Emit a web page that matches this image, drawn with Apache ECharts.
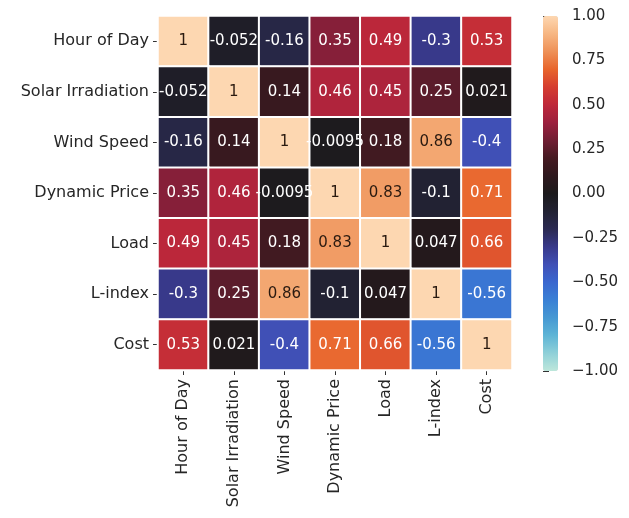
<!DOCTYPE html>
<html>
<head>
<meta charset="utf-8">
<script src="https://cdn.jsdelivr.net/npm/echarts@6/dist/echarts.min.js"></script>
<style>
html,body{margin:0;padding:0;background:#fff;}
#chart{width:629px;height:518px;}
</style>
</head>
<body>
<div id="chart"></div>
<script>
const categories = ["Hour of Day", "Solar Irradiation", "Wind Speed", "Dynamic Price", "Load", "L-index", "Cost"];
const rowHourOfDay = [1, -0.052, -0.16, 0.35, 0.49, -0.3, 0.53];
const rowSolar = [-0.052, 1, 0.14, 0.46, 0.45, 0.25, 0.021];
const rowWind = [-0.16, 0.14, 1, -0.0095, 0.18, 0.86, -0.4];
const rowPrice = [0.35, 0.46, -0.0095, 1, 0.83, -0.1, 0.71];
const rowLoad = [0.49, 0.45, 0.18, 0.83, 1, 0.047, 0.66];
const rowLindex = [-0.3, 0.25, 0.86, -0.1, 0.047, 1, -0.56];
const rowCost = [0.53, 0.021, -0.4, 0.71, 0.66, -0.56, 1];
const colorbarTicks = [-1, -0.75, -0.5, -0.25, 0, 0.25, 0.5, 0.75, 1];

const rows = [rowHourOfDay, rowSolar, rowWind, rowPrice, rowLoad, rowLindex, rowCost];
const icefire = ['#BDE7DB','#8FD0D8','#5EB5D6','#4698D3','#3A80D5','#3A67CF','#4050B6','#38398A','#2B2A52','#222233',
  '#1C1A1C','#2E181D','#461A22','#701E33','#9C1F3E','#BE283A','#D53D30','#E8652C','#EE9158','#F7B682','#FDD7B1'];

const data = [];
rows.forEach((r, yi) => r.forEach((v, xi) => {
  data.push({value: [xi, yi, v], label: {color: v > 0.78 ? '#2a1a10' : '#ffffff'}});
}));

const FONT = 'DejaVu Sans';
const chart = echarts.init(document.getElementById('chart'), null, {renderer: 'canvas'});
chart.setOption({
  animation: false,
  backgroundColor: '#ffffff',
  textStyle: {fontFamily: FONT},
  grid: [
    {left: 158, top: 16, width: 354, height: 354},
    {left: 543, top: 16, width: 15, height: 355}
  ],
  xAxis: [
    {type: 'category', data: categories, gridIndex: 0, position: 'bottom',
     axisLine: {show: false}, splitLine: {show: false},
     axisTick: {show: true, alignWithLabel: true, length: 5, lineStyle: {color: '#333'}},
     axisLabel: {rotate: 90, margin: 9, fontSize: 16, color: '#262626', fontFamily: FONT, interval: 0}},
    {type: 'value', gridIndex: 1, show: false, min: 0, max: 1}
  ],
  yAxis: [
    {type: 'category', data: categories, gridIndex: 0, inverse: true,
     axisLine: {show: false}, splitLine: {show: false},
     axisTick: {show: true, alignWithLabel: true, length: 5, lineStyle: {color: '#333'}},
     axisLabel: {margin: 9, fontSize: 16, color: '#262626', fontFamily: FONT, interval: 0}},
    {type: 'value', gridIndex: 1, position: 'right', min: -1, max: 1, interval: 0.25,
     axisLine: {show: false}, splitLine: {show: false},
     axisTick: {show: true, length: 6, lineStyle: {color: '#333'}},
     axisLabel: {margin: 14, fontSize: 15, color: '#262626', fontFamily: FONT,
       formatter: v => (v < 0 ? '\u2212' : '') + Math.abs(v).toFixed(2)}}
  ],
  visualMap: {
    type: 'continuous', min: -1, max: 1, seriesIndex: 0,
    calculable: false, left: 543, top: 16, padding: 0,
    itemWidth: 15, itemHeight: 355,
    inRange: {color: icefire}
  },
  series: [
    {type: 'heatmap', xAxisIndex: 0, yAxisIndex: 0, data: data,
     itemStyle: {borderColor: '#ffffff', borderWidth: 2},
     label: {show: true, fontSize: 15, fontFamily: FONT, formatter: p => String(p.value[2])}},
    {type: 'line', xAxisIndex: 1, yAxisIndex: 1, data: []}
  ]
});
</script>
</body>
</html>
